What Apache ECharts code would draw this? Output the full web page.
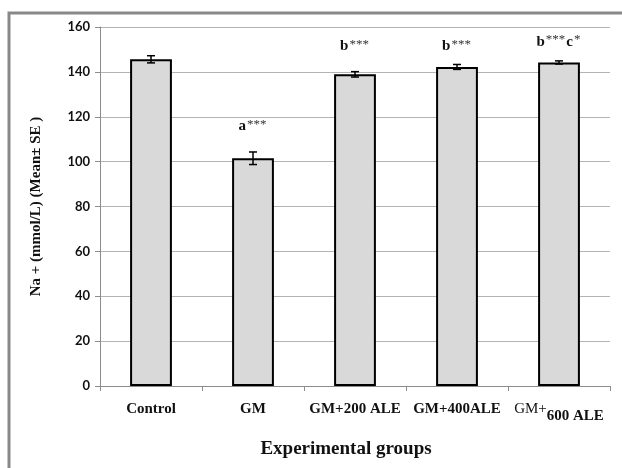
<!DOCTYPE html>
<html><head><meta charset="utf-8">
<script src="https://cdn.jsdelivr.net/npm/echarts@6/dist/echarts.min.js"></script>
<style>html,body{margin:0;padding:0;background:#fff}#c{width:622px;height:468px}</style>
</head><body><div id="c"></div>
<script>
var categories = ['Control', 'GM', 'GM+200 ALE', 'GM+400ALE', 'GM+600 ALE'];
var means = [145.6, 101.5, 138.9, 142.2, 144.2];
var errors = [1.6, 2.8, 1.2, 1.1, 0.7];
var annotations = ['', 'a***', 'b***', 'b***', 'b***c*'];
var annotationY = [null, 116, 151.5, 151.5, 153.7];
var yTicks = [0, 20, 40, 60, 80, 100, 120, 140, 160];

var chart = echarts.init(document.getElementById('c'));

function annRich(s) {
  var out = '';
  var re = /([a-z]+)|(\*+)/g, m;
  while ((m = re.exec(s)) !== null) {
    if (m[1]) out += '{l|' + m[1] + '}';
    else out += '{s|' + m[2].split('').join('') + '}';
  }
  return out;
}

chart.setOption({
  animation: false,
  graphic: [{
    type: 'rect', shape: {x: 9, y: 13, width: 700, height: 520},
    style: {fill: 'none', stroke: '#898989', lineWidth: 3}, silent: true, z: -1
  }],
  grid: {left: 100, right: 12, top: 27, bottom: 82, containLabel: false},
  xAxis: {
    type: 'category', data: categories,
    axisLine: {lineStyle: {color: '#8c8c8c', width: 1}},
    axisTick: {show: true, length: 5, lineStyle: {color: '#8c8c8c'}},
    axisLabel: {
      interval: 0, margin: 16, color: '#111',
      fontFamily: 'Liberation Serif', fontWeight: 'bold', fontSize: 15,
      formatter: function (v) {
        if (v === 'GM+600 ALE') return '{a|GM+}{b|600 ALE}';
        return '{n|' + v + '}';
      },
      rich: {
        n: {fontFamily: 'Liberation Serif', fontWeight: 'bold', fontSize: 15, color: '#111', lineHeight: 17, verticalAlign: 'top'},
        a: {fontFamily: 'Liberation Serif', fontWeight: 'normal', fontSize: 15, color: '#111', lineHeight: 17, verticalAlign: 'top'},
        b: {fontFamily: 'Liberation Serif', fontWeight: 'bold', fontSize: 15, color: '#111', lineHeight: 17, verticalAlign: 'top', padding: [7, 0, 0, 0]}
      }
    },
    name: 'Experimental groups', nameLocation: 'middle', nameGap: 54,
    nameTextStyle: {fontFamily: 'Liberation Serif', fontWeight: 'bold', fontSize: 19, color: '#111', padding: [0, 18, 0, 0]}
  },
  yAxis: {
    type: 'value', min: 0, max: 160, interval: 20,
    axisLine: {show: true, lineStyle: {color: '#8c8c8c'}},
    axisTick: {show: true, length: 5, lineStyle: {color: '#8c8c8c'}},
    splitLine: {lineStyle: {color: '#b4b4b4', width: 1}},
    axisLabel: {color: '#111', fontFamily: 'Lato', fontWeight: 'bold', fontSize: 13, margin: 10,
      formatter: function (v) { return yTicks.indexOf(v) >= 0 ? String(v) : ''; }},
    name: 'Na + (mmol/L) (Mean\u00b1 SE )', nameLocation: 'middle', nameGap: 56, nameRotate: 90,
    nameTextStyle: {fontFamily: 'Liberation Serif', fontWeight: 'bold', fontSize: 15, color: '#111', padding: [0, 0, 0, 0]}
  },
  series: [{
    type: 'bar', data: means, barWidth: '41%',
    itemStyle: {color: '#d9d9d9', borderColor: '#000', borderWidth: 2},
    z: 2
  }, {
    type: 'custom', z: 5,
    data: means.map(function (m, i) { return [i, m, errors[i]]; }),
    renderItem: function (params, api) {
      var i = api.value(0), m = api.value(1), e = api.value(2);
      var top = api.coord([i, m + e]);
      var bot = api.coord([i, m - e]);
      var hw = 4;
      var st = {stroke: '#000', lineWidth: 1.5};
      return {type: 'group', children: [
        {type: 'line', shape: {x1: top[0], y1: top[1], x2: bot[0], y2: bot[1]}, style: st},
        {type: 'line', shape: {x1: top[0] - hw, y1: top[1], x2: top[0] + hw, y2: top[1]}, style: st},
        {type: 'line', shape: {x1: bot[0] - hw, y1: bot[1], x2: bot[0] + hw, y2: bot[1]}, style: st}
      ]};
    }
  }, {
    type: 'custom', z: 6,
    data: annotations.map(function (a, i) { return [i, annotationY[i] == null ? 0 : annotationY[i]]; }),
    renderItem: function (params, api) {
      var i = params.dataIndex;
      if (!annotations[i]) return null;
      var p = api.coord([api.value(0), api.value(1)]);
      return {type: 'text', x: p[0], y: p[1], style: {
        text: annRich(annotations[i]), align: 'center', verticalAlign: 'middle',
        rich: {
          l: {fontFamily: 'Liberation Serif', fontWeight: 'bold', fontSize: 15, fill: '#111', verticalAlign: 'bottom', lineHeight: 16},
          s: {fontFamily: 'Liberation Serif', fontWeight: 'normal', fontSize: 13, fill: '#333', verticalAlign: 'top', lineHeight: 16, padding: [0, 1, 4, 1]}
        }
      }};
    }
  }]
});
</script>
</body></html>
